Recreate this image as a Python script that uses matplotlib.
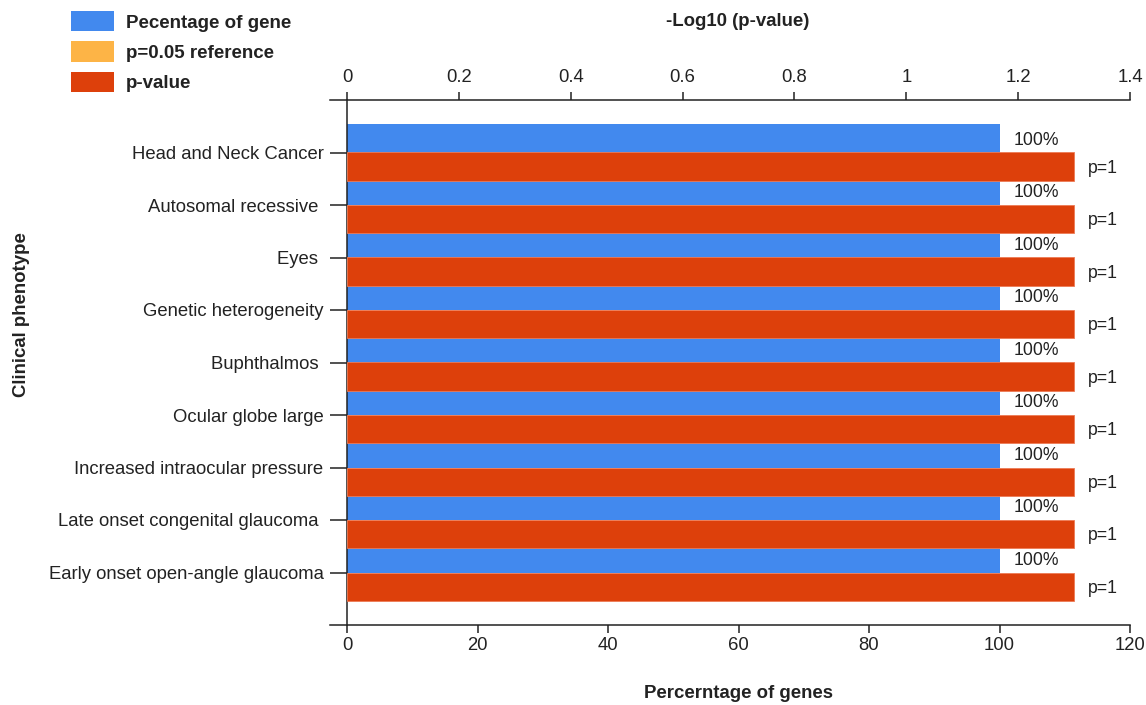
import matplotlib
matplotlib.use("Agg")
import matplotlib.pyplot as plt
from matplotlib.patches import Patch
from matplotlib import font_manager
import numpy as np

plt.rcParams['font.family'] = ['Liberation Sans', 'DejaVu Sans']

# ---- data ----
categories = [
    "Head and Neck Cancer",
    "Autosomal recessive ",
    "Eyes ",
    "Genetic heterogeneity",
    "Buphthalmos ",
    "Ocular globe large",
    "Increased intraocular pressure",
    "Late onset congenital glaucoma ",
    "Early onset open-angle glaucoma",
]
pct_genes = [100, 100, 100, 100, 100, 100, 100, 100, 100]
neglog_bar = [1.30, 1.30, 1.30, 1.30, 1.30, 1.30, 1.30, 1.30, 1.30]
p_labels = ["p=1"] * 9
bottom_ticks = [0, 20, 40, 60, 80, 100, 120]
top_ticks = [0, 0.2, 0.4, 0.6, 0.8, 1, 1.2, 1.4]
top_tick_labels = ["0", "0.2", "0.4", "0.6", "0.8", "1", "1.2", "1.4"]

# ---- style ----
BLUE = "#4289EE"
ORANGE = "#FDB446"
RED = "#DD400B"
TXT = "#222222"

names = {f.name for f in font_manager.fontManager.ttflist}
narrow = ['Liberation Sans Narrow', 'Liberation Sans'] if 'Liberation Sans Narrow' in names else ['Liberation Sans']
tick_fs = 14.5 if 'Liberation Sans Narrow' in names else 13.3

fig = plt.figure(figsize=(11.46, 7.05), dpi=100)
ax = fig.add_axes([347 / 1146, 1 - 625 / 705, 783 / 1146, 525 / 705])

y = np.arange(len(categories))
ax.barh(y - 0.27, pct_genes, height=0.55, color=BLUE, zorder=2)
ax.set_xlim(0, 120)
ax.set_ylim(9.0, -1.0)
ax.set_yticks(y)
ax.set_yticklabels(categories, fontsize=13.3, color=TXT)
ax.set_xticks(bottom_ticks)
ax.set_xticklabels([str(t) for t in bottom_ticks], family=narrow, fontsize=tick_fs, color=TXT)
ax.tick_params(axis='y', length=12, width=1.1, pad=5, color=TXT)
ax.tick_params(axis='x', length=6, width=1.1, pad=3, color=TXT)
for s in ['right', 'top']:
    ax.spines[s].set_visible(False)
for s in ['left', 'bottom']:
    ax.spines[s].set_linewidth(1.1)
    ax.spines[s].set_color(TXT)
ax.spines['bottom'].set_bounds(-2.6, 120)

ax2 = ax.twiny()
ax2.barh(y + 0.27, neglog_bar, height=0.54, color=RED, edgecolor="#EE7A55", linewidth=0.6, zorder=3)
ax2.set_xlim(0, 1.4)
ax2.set_ylim(9.0, -1.0)
ax2.set_xticks(top_ticks)
ax2.set_xticklabels(top_tick_labels, family=narrow, fontsize=tick_fs, color=TXT)
ax2.tick_params(axis='x', length=6, width=1.1, pad=4, color=TXT)
for s in ['right', 'bottom', 'left']:
    ax2.spines[s].set_visible(False)
ax2.spines['top'].set_linewidth(1.1)
ax2.spines['top'].set_color(TXT)
ax2.spines['top'].set_bounds(-0.0304, 1.4)

# percentage labels (placed on the top-most axes so the red bars don't hide them)
for yi, v in zip(y, pct_genes):
    ax2.annotate(f"{v:g}%", xy=(v, yi - 0.27), xycoords=ax.transData,
                 xytext=(10, -1.5), textcoords='offset points',
                 va='center', ha='left', fontsize=12.7, color=TXT, zorder=6)

for yi, v, lab in zip(y, neglog_bar, p_labels):
    ax2.annotate(lab, xy=(v, yi + 0.27), xytext=(10, -1), textcoords='offset points',
                 va='center', ha='left', fontsize=12.7, color=TXT)

fig.text(738 / 1146, 1 - 22 / 705, "-Log10 (p-value)", ha='center', va='center',
         fontsize=13.4, fontweight='bold', color=TXT)
fig.text(738 / 1146, 1 - 694 / 705, "Percerntage of genes", ha='center', va='center',
         fontsize=13.4, fontweight='bold', color=TXT)
fig.text(22 / 1146, 1 - 315 / 705, "Clinical phenotype", ha='center', va='center',
         rotation=90, fontsize=13.4, fontweight='bold', color=TXT)

handles = [Patch(facecolor=BLUE, label="Pecentage of gene"),
           Patch(facecolor=ORANGE, label="p=0.05 reference"),
           Patch(facecolor=RED, label="p-value")]
leg = fig.legend(handles=handles, loc='upper left', bbox_to_anchor=(71 / 1146, 1 - 11 / 705),
                 frameon=False, borderpad=0, borderaxespad=0,
                 handlelength=2.3, handleheight=1.3, handletextpad=0.64, labelspacing=0.52,
                 prop={'weight': 'bold', 'size': 13.5})
for t in leg.get_texts():
    t.set_color(TXT)

fig.savefig("out.png", dpi=100)
